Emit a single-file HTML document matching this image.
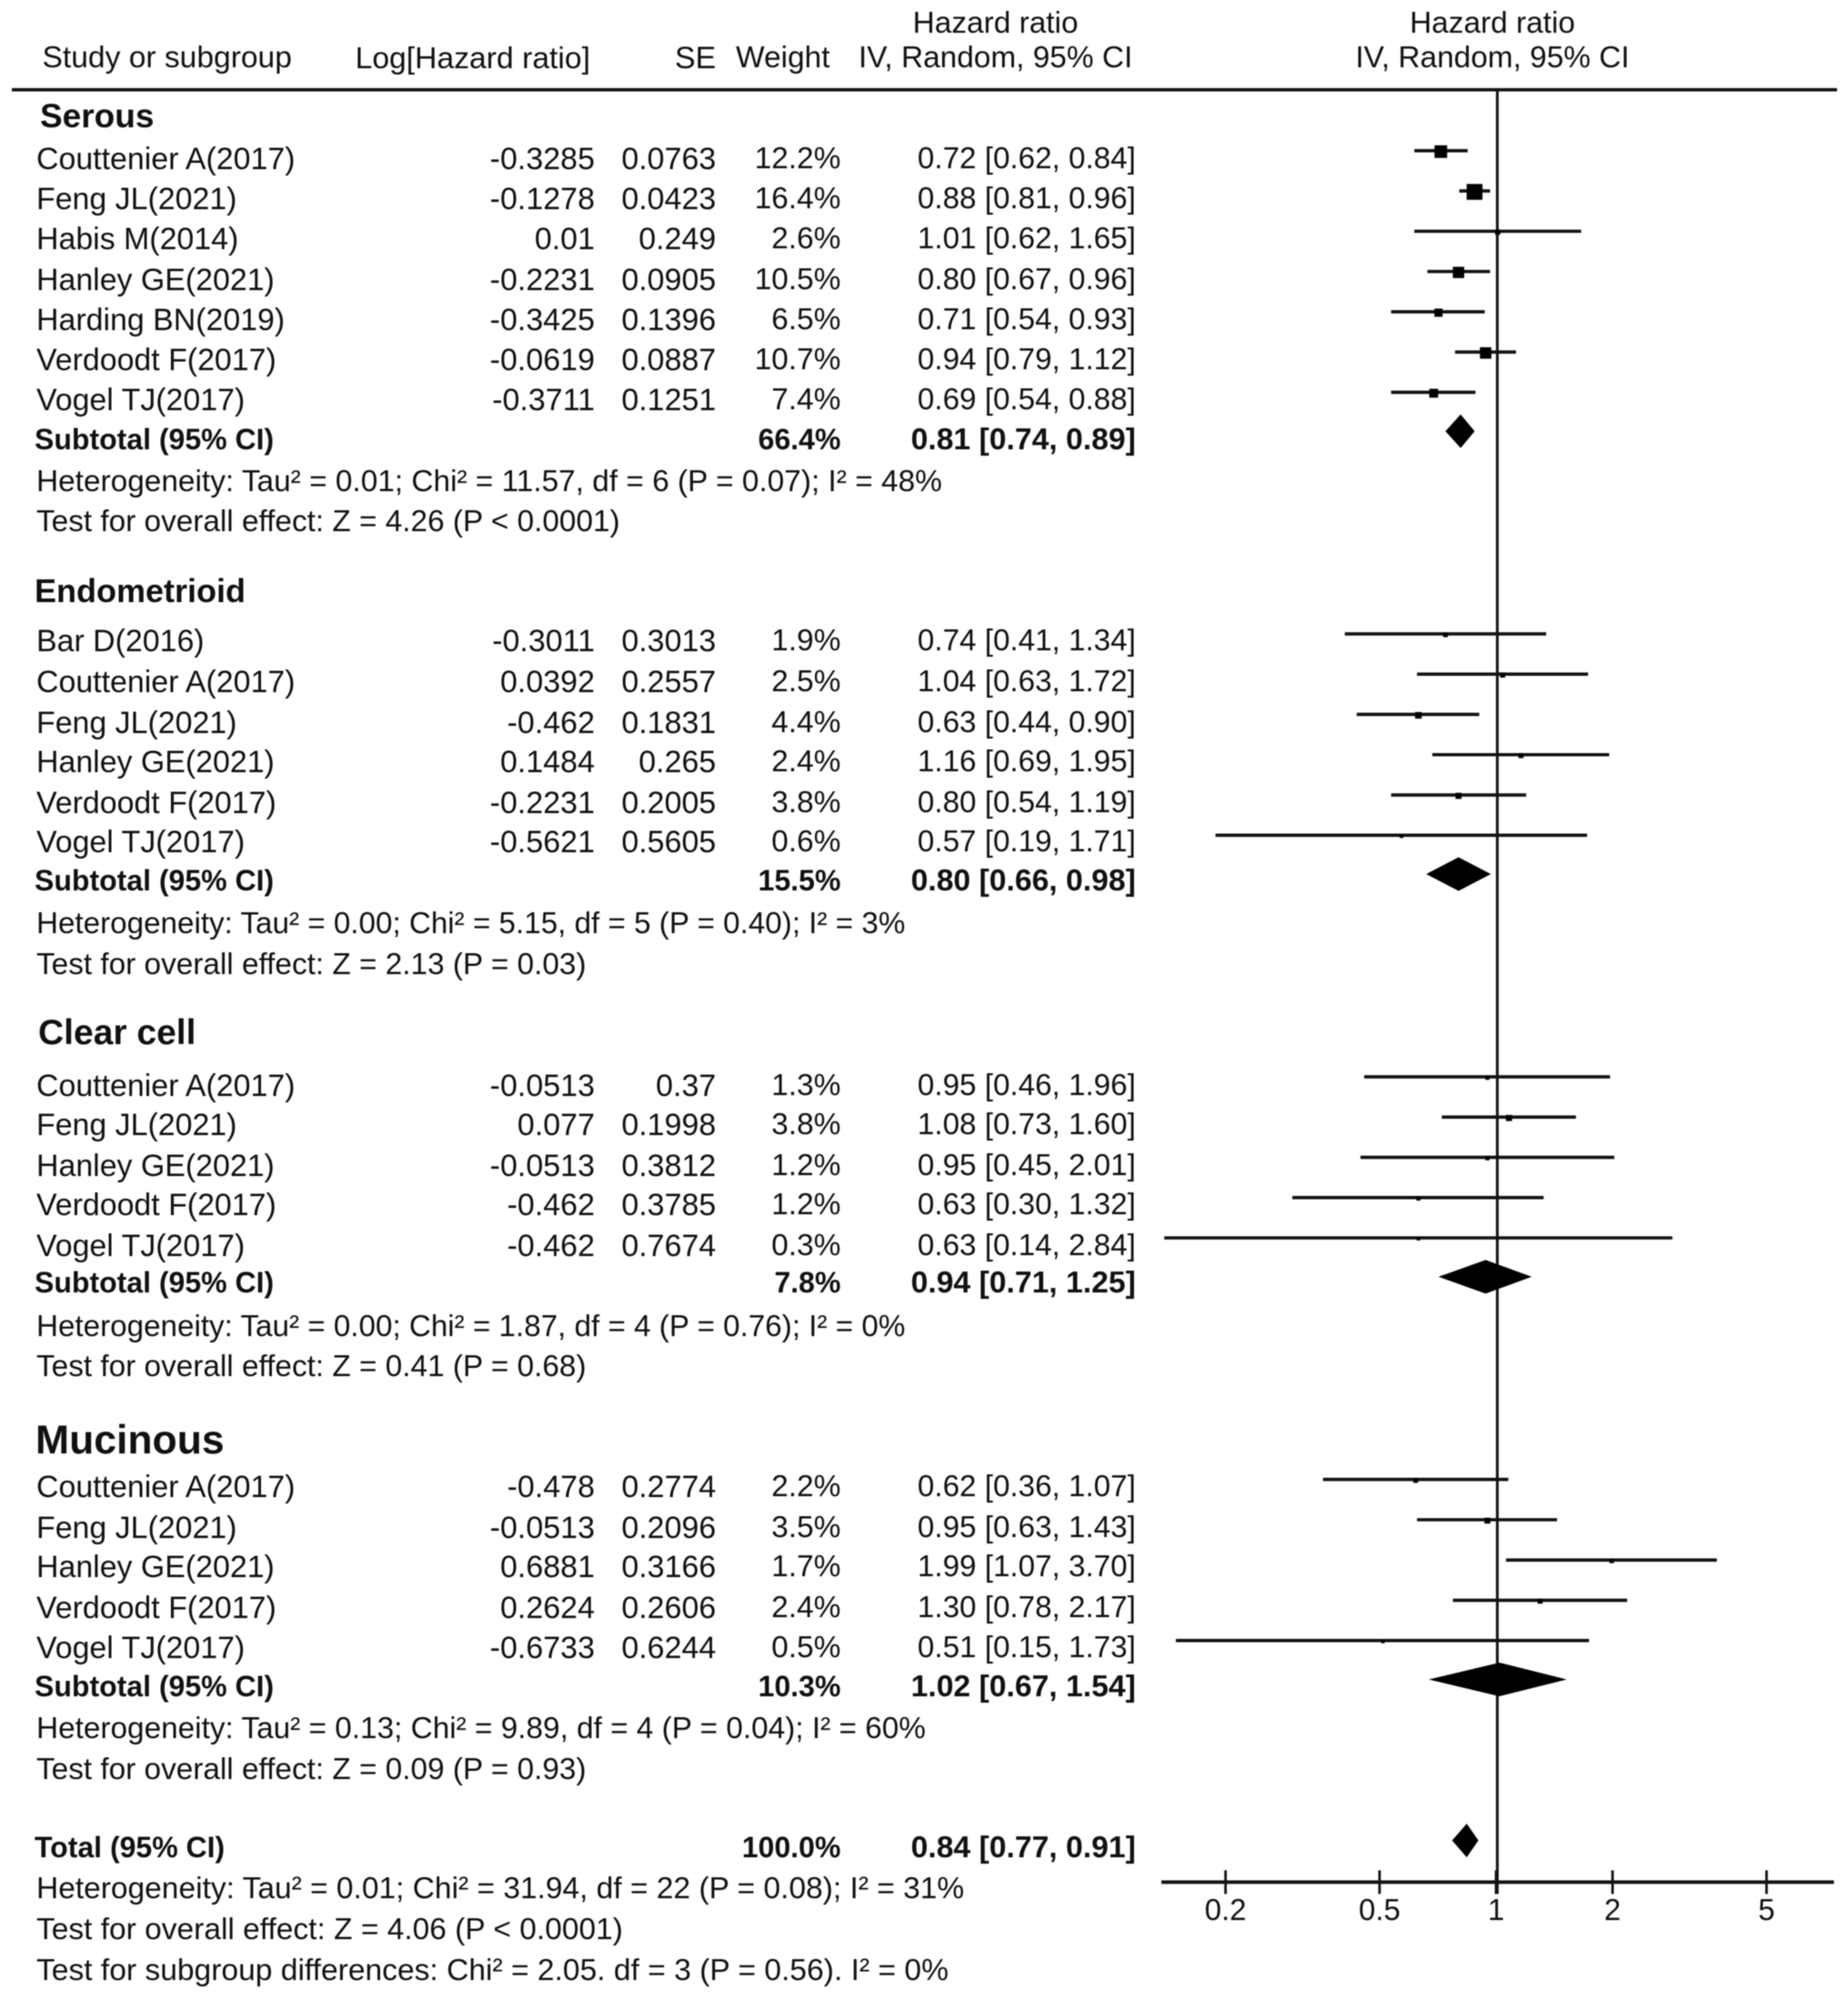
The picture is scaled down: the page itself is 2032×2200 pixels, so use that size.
<!DOCTYPE html>
<html lang="en">
<head>
<meta charset="utf-8">
<title>Forest plot of hazard ratios by histological subtype</title>
<style>
html,body{margin:0;padding:0;background:#fff}
#forest-page{position:relative;width:2032px;height:2200px;overflow:hidden;background:#fff;color:#111;font-family:"Liberation Sans",sans-serif;font-size:33.4px;filter:blur(.55px)}
#forest-table{position:absolute;left:0;top:0;width:2032px;height:2200px}
.r{position:absolute;left:0;width:1300px;height:44px;line-height:44px;margin-top:-22px;white-space:nowrap}
.r span{position:absolute;top:0;white-space:nowrap}
.n{left:40px}
.l{right:646px;font-size:34px}
.s{right:512.7px;font-size:34px}
.w{right:375.6px}
.h{right:51.2px;font-size:33.2px}
.b{font-weight:bold;font-size:32px}
.g{font-weight:bold;left:38px}
.c{position:absolute;height:44px;line-height:44px;margin-top:-22px;transform:translateX(-50%);white-space:nowrap}
.r .n{font-size:33.9px}
.b .n{font-size:32px;left:38px}
.t{margin-top:-22.6px}
.t .n{font-size:33.35px}
.b .h{font-size:33.7px}
.d{margin-top:-23.2px}
#forest-plot{position:absolute;left:0;top:0}
</style>
</head>
<body>
<div id="forest-page">
<div id="forest-table">
<div class="c" style="left:1094.6px;top:26.4px">Hazard ratio</div>
<div class="c" style="left:1094.6px;top:64.4px">IV, Random, 95% CI</div>
<div class="c" style="left:1641px;top:26.4px">Hazard ratio</div>
<div class="c" style="left:1641px;top:64.4px">IV, Random, 95% CI</div>
<div class="r" style="top:64.4px"><span style="left:46.5px;font-size:33.6px">Study or subgroup</span><span style="right:651px;font-size:33.7px">Log[Hazard ratio]</span><span class="s">SE</span><span style="right:387.5px">Weight</span></div>

<div class="r" style="top:128px"><span class="g" style="left:44px;font-size:37px">Serous</span></div>
<div class="r d" style="top:176.4px"><span class="n">Couttenier A(2017)</span><span class="l">-0.3285</span><span class="s">0.0763</span><span class="w">12.2%</span><span class="h">0.72 [0.62, 0.84]</span></div>
<div class="r d" style="top:220px"><span class="n">Feng JL(2021)</span><span class="l">-0.1278</span><span class="s">0.0423</span><span class="w">16.4%</span><span class="h">0.88 [0.81, 0.96]</span></div>
<div class="r d" style="top:264.4px"><span class="n">Habis M(2014)</span><span class="l">0.01</span><span class="s">0.249</span><span class="w">2.6%</span><span class="h">1.01 [0.62, 1.65]</span></div>
<div class="r d" style="top:309.4px"><span class="n">Hanley GE(2021)</span><span class="l">-0.2231</span><span class="s">0.0905</span><span class="w">10.5%</span><span class="h">0.80 [0.67, 0.96]</span></div>
<div class="r d" style="top:353.4px"><span class="n">Harding BN(2019)</span><span class="l">-0.3425</span><span class="s">0.1396</span><span class="w">6.5%</span><span class="h">0.71 [0.54, 0.93]</span></div>
<div class="r d" style="top:397.4px"><span class="n">Verdoodt F(2017)</span><span class="l">-0.0619</span><span class="s">0.0887</span><span class="w">10.7%</span><span class="h">0.94 [0.79, 1.12]</span></div>
<div class="r d" style="top:441.4px"><span class="n">Vogel TJ(2017)</span><span class="l">-0.3711</span><span class="s">0.1251</span><span class="w">7.4%</span><span class="h">0.69 [0.54, 0.88]</span></div>
<div class="r b" style="top:482.5px"><span class="n">Subtotal (95% CI)</span><span class="w">66.4%</span><span class="h">0.81 [0.74, 0.89]</span></div>
<div class="r t" style="top:530.4px"><span class="n" style="font-size:33.4px">Heterogeneity: Tau² = 0.01; Chi² = 11.57, df = 6 (P = 0.07); I² = 48%</span></div>
<div class="r t" style="top:574.4px"><span class="n">Test for overall effect: Z = 4.26 (P &lt; 0.0001)</span></div>

<div class="r" style="top:650.4px"><span class="g" style="font-size:36px">Endometrioid</span></div>
<div class="r d" style="top:706.5px"><span class="n">Bar D(2016)</span><span class="l">-0.3011</span><span class="s">0.3013</span><span class="w">1.9%</span><span class="h">0.74 [0.41, 1.34]</span></div>
<div class="r d" style="top:751.5px"><span class="n">Couttenier A(2017)</span><span class="l">0.0392</span><span class="s">0.2557</span><span class="w">2.5%</span><span class="h">1.04 [0.63, 1.72]</span></div>
<div class="r d" style="top:796px"><span class="n">Feng JL(2021)</span><span class="l">-0.462</span><span class="s">0.1831</span><span class="w">4.4%</span><span class="h">0.63 [0.44, 0.90]</span></div>
<div class="r d" style="top:839.5px"><span class="n">Hanley GE(2021)</span><span class="l">0.1484</span><span class="s">0.265</span><span class="w">2.4%</span><span class="h">1.16 [0.69, 1.95]</span></div>
<div class="r d" style="top:884.5px"><span class="n">Verdoodt F(2017)</span><span class="l">-0.2231</span><span class="s">0.2005</span><span class="w">3.8%</span><span class="h">0.80 [0.54, 1.19]</span></div>
<div class="r d" style="top:927.5px"><span class="n">Vogel TJ(2017)</span><span class="l">-0.5621</span><span class="s">0.5605</span><span class="w">0.6%</span><span class="h">0.57 [0.19, 1.71]</span></div>
<div class="r b" style="top:968.4px"><span class="n">Subtotal (95% CI)</span><span class="w">15.5%</span><span class="h">0.80 [0.66, 0.98]</span></div>
<div class="r t" style="top:1016.5px"><span class="n" style="font-size:33.2px">Heterogeneity: Tau² = 0.00; Chi² = 5.15, df = 5 (P = 0.40); I² = 3%</span></div>
<div class="r t" style="top:1061.5px"><span class="n">Test for overall effect: Z = 2.13 (P = 0.03)</span></div>

<div class="r" style="top:1135.5px"><span class="g" style="left:42px;font-size:39px">Clear cell</span></div>
<div class="r d" style="top:1195px"><span class="n">Couttenier A(2017)</span><span class="l">-0.0513</span><span class="s">0.37</span><span class="w">1.3%</span><span class="h">0.95 [0.46, 1.96]</span></div>
<div class="r d" style="top:1238px"><span class="n">Feng JL(2021)</span><span class="l">0.077</span><span class="s">0.1998</span><span class="w">3.8%</span><span class="h">1.08 [0.73, 1.60]</span></div>
<div class="r d" style="top:1283px"><span class="n">Hanley GE(2021)</span><span class="l">-0.0513</span><span class="s">0.3812</span><span class="w">1.2%</span><span class="h">0.95 [0.45, 2.01]</span></div>
<div class="r d" style="top:1326px"><span class="n">Verdoodt F(2017)</span><span class="l">-0.462</span><span class="s">0.3785</span><span class="w">1.2%</span><span class="h">0.63 [0.30, 1.32]</span></div>
<div class="r d" style="top:1371px"><span class="n">Vogel TJ(2017)</span><span class="l">-0.462</span><span class="s">0.7674</span><span class="w">0.3%</span><span class="h">0.63 [0.14, 2.84]</span></div>
<div class="r b" style="top:1410.4px"><span class="n">Subtotal (95% CI)</span><span class="w">7.8%</span><span class="h">0.94 [0.71, 1.25]</span></div>
<div class="r t" style="top:1460px"><span class="n" style="font-size:33.2px">Heterogeneity: Tau² = 0.00; Chi² = 1.87, df = 4 (P = 0.76); I² = 0%</span></div>
<div class="r t" style="top:1504px"><span class="n">Test for overall effect: Z = 0.41 (P = 0.68)</span></div>

<div class="r" style="top:1584.4px"><span class="g" style="left:39px;font-size:44.5px">Mucinous</span></div>
<div class="r d" style="top:1636.4px"><span class="n">Couttenier A(2017)</span><span class="l">-0.478</span><span class="s">0.2774</span><span class="w">2.2%</span><span class="h">0.62 [0.36, 1.07]</span></div>
<div class="r d" style="top:1681.4px"><span class="n">Feng JL(2021)</span><span class="l">-0.0513</span><span class="s">0.2096</span><span class="w">3.5%</span><span class="h">0.95 [0.63, 1.43]</span></div>
<div class="r d" style="top:1724.4px"><span class="n">Hanley GE(2021)</span><span class="l">0.6881</span><span class="s">0.3166</span><span class="w">1.7%</span><span class="h">1.99 [1.07, 3.70]</span></div>
<div class="r d" style="top:1769.4px"><span class="n">Verdoodt F(2017)</span><span class="l">0.2624</span><span class="s">0.2606</span><span class="w">2.4%</span><span class="h">1.30 [0.78, 2.17]</span></div>
<div class="r d" style="top:1813.4px"><span class="n">Vogel TJ(2017)</span><span class="l">-0.6733</span><span class="s">0.6244</span><span class="w">0.5%</span><span class="h">0.51 [0.15, 1.73]</span></div>
<div class="r b" style="top:1853.6px"><span class="n">Subtotal (95% CI)</span><span class="w">10.3%</span><span class="h">1.02 [0.67, 1.54]</span></div>
<div class="r t" style="top:1902px"><span class="n">Heterogeneity: Tau² = 0.13; Chi² = 9.89, df = 4 (P = 0.04); I² = 60%</span></div>
<div class="r t" style="top:1946.4px"><span class="n">Test for overall effect: Z = 0.09 (P = 0.93)</span></div>

<div class="r b" style="top:2030.6px"><span class="n">Total (95% CI)</span><span class="w">100.0%</span><span class="h">0.84 [0.77, 0.91]</span></div>
<div class="r t" style="top:2077.6px"><span class="n" style="font-size:33.5px">Heterogeneity: Tau² = 0.01; Chi² = 31.94, df = 22 (P = 0.08); I² = 31%</span></div>
<div class="r t" style="top:2123px"><span class="n" style="font-size:33.5px">Test for overall effect: Z = 4.06 (P &lt; 0.0001)</span></div>
<div class="r" style="top:2166.6px"><span class="n" style="font-size:33.6px">Test for subgroup differences: Chi² = 2.05. df = 3 (P = 0.56). I² = 0%</span></div>
</div>
<svg id="forest-plot" width="2032" height="2200" viewBox="0 0 2032 2200"></svg>
</div>
<script>
// Study estimates, in reading order, grouped by subtype
const groupSizes = [7, 6, 5, 5];
const studyHazardRatios = [0.72,0.88,1.01,0.80,0.71,0.94,0.69, 0.74,1.04,0.63,1.16,0.80,0.57, 0.95,1.08,0.95,0.63,0.63, 0.62,0.95,1.99,1.30,0.51];
const studyCiLower = [0.62,0.81,0.62,0.67,0.54,0.79,0.54, 0.41,0.63,0.44,0.69,0.54,0.19, 0.46,0.73,0.45,0.30,0.14, 0.36,0.63,1.07,0.78,0.15];
const studyCiUpper = [0.84,0.96,1.65,0.96,0.93,1.12,0.88, 1.34,1.72,0.90,1.95,1.19,1.71, 1.96,1.60,2.01,1.32,2.84, 1.07,1.43,3.70,2.17,1.73];
const studyWeights = [12.2,16.4,2.6,10.5,6.5,10.7,7.4, 1.9,2.5,4.4,2.4,3.8,0.6, 1.3,3.8,1.2,1.2,0.3, 2.2,3.5,1.7,2.4,0.5];
const subtotalHazardRatios = [0.81,0.80,0.94,1.02];
const subtotalCiLower = [0.74,0.66,0.71,0.67];
const subtotalCiUpper = [0.89,0.98,1.25,1.54];
const totalHazardRatio = [0.84];
const totalCiLower = [0.77];
const totalCiUpper = [0.91];
const axisTickValues = [0.2,0.5,1,2,5];
const axisTickLabels = ['0.2','0.5','1','2','5'];

const svg = document.getElementById('forest-plot');
const NS = 'http://www.w3.org/2000/svg';
const INK = '#111';
function xScale(hr){ return 1645 + 184.8 * Math.log(hr); }
function yRow(row){ return 165.7 + 44.27 * row; }
function make(tag, attrs){
  const el = document.createElementNS(NS, tag);
  for (const k in attrs) el.setAttribute(k, attrs[k]);
  svg.appendChild(el);
  return el;
}
function drawDiamond(hr, lo, hi, row, name){
  const y = yRow(row) - 1.5;
  const h = 18.5;
  const el = make('polygon', {points: xScale(lo)+','+y+' '+xScale(hr)+','+(y-h)+' '+(xScale(hi)-2)+','+y+' '+xScale(hr)+','+(y+h), fill:'#000'});
  
  
}

// top rule
const topRule = make('line', {x1:13, x2:2020, y1:98.7, y2:98.7, stroke:INK, 'stroke-width':3.6});



// no-effect reference line
const refLine = make('line', {x1:xScale(1)+1.4, x2:xScale(1)+1.4, y1:98, y2:yRow(43)+13, stroke:INK, 'stroke-width':3});



// studies and subtotals
let studyIndex = 0;
let row = 0;
groupSizes.forEach(function(size, g){
  for (let i = 0; i < size; i++){
    const y = yRow(row + i);
    const ci = make('line', {x1:xScale(studyCiLower[studyIndex])-1.5, x2:xScale(studyCiUpper[studyIndex])+1, y1:y, y2:y, stroke:INK, 'stroke-width':3.6});
    
    
    const s = 3.5 + 0.85 * studyWeights[studyIndex];
    const sq = make('rect', {x:xScale(studyHazardRatios[studyIndex]) - s/2, y:y + 1 - s/2, width:s, height:s, fill:'#000'});
    
    
    studyIndex++;
  }
  drawDiamond(subtotalHazardRatios[g], subtotalCiLower[g], subtotalCiUpper[g], row + size, 'subtotal-diamond');
  row += size + 5;
});
drawDiamond(totalHazardRatio[0], totalCiLower[0], totalCiUpper[0], row - 1, 'total-diamond');

// axis
const axisY = yRow(43);
const axisLine = make('line', {x1:1277, x2:2016.5, y1:axisY, y2:axisY, stroke:INK, 'stroke-width':3.8});


axisTickValues.forEach(function(v, i){
  const x = xScale(v);
  const tick = make('line', {x1:x, x2:x, y1:axisY-13, y2:axisY+13, stroke:INK, 'stroke-width':2.8});
  
  
  const label = make('text', {x:x, y:axisY+41.6, 'text-anchor':'middle', fill:'#111', 'font-size':'33px', 'font-family':'"Liberation Sans", sans-serif'});
  
  
  label.textContent = axisTickLabels[i];
});
</script>
</body>
</html>
